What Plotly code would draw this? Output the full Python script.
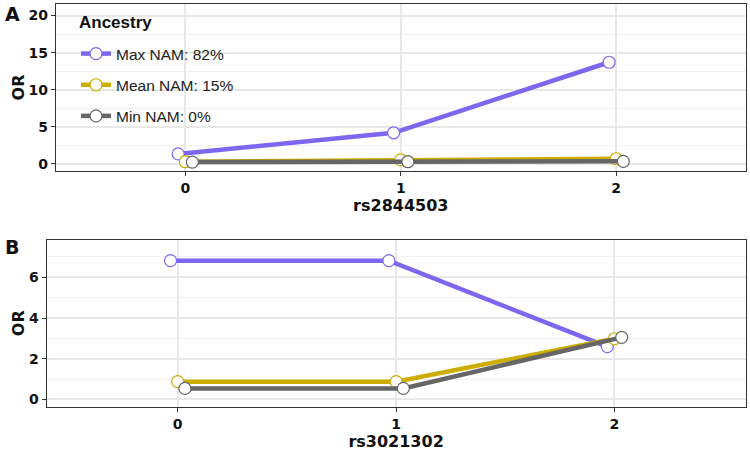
import plotly.graph_objects as go

# ---- data ----
genotypes = [0, 1, 2]
series_names = ["Max NAM: 82%", "Mean NAM: 15%", "Min NAM: 0%"]
colors = ["#7B68EE", "#CDAD00", "#666666"]
legend_title = "Ancestry"

# Panel A: rs2844503
or_a_max = [1.35, 4.2, 13.7]
or_a_mean = [0.30, 0.55, 0.70]
or_a_min = [0.25, 0.30, 0.35]

# Panel B: rs3021302
or_b_max = [6.82, 6.82, 2.59]
or_b_mean = [0.87, 0.87, 2.98]
or_b_min = [0.54, 0.54, 3.05]

snp_a = "rs2844503"
snp_b = "rs3021302"

# ---- style ----
W, H = 750, 451
dodge = [-0.033, 0.0, 0.033]
tick_font = dict(family="DejaVu Sans", size=14, color="#111111", weight="bold")
title_font = dict(family="DejaVu Sans", size=16, color="#111111", weight="bold")

fig = go.Figure()

panels = [
    (or_a_max, or_a_mean, or_a_min, "x", "y", True),
    (or_b_max, or_b_mean, or_b_min, "x2", "y2", False),
]
for vals_max, vals_mean, vals_min, xa, ya, show in panels:
    for i, vals in enumerate([vals_max, vals_mean, vals_min]):
        fig.add_trace(go.Scatter(
            x=[g + dodge[i] for g in genotypes],
            y=vals,
            mode="lines+markers",
            name=series_names[i],
            legendgroup=series_names[i],
            showlegend=show,
            line=dict(color=colors[i], width=4.5),
            marker=dict(size=12, color="white",
                        line=dict(color=colors[i], width=1.2)),
            xaxis=xa, yaxis=ya,
        ))

axis_common = dict(
    showline=True, linecolor="#333333", linewidth=1.2, mirror=True,
    ticks="outside", ticklen=4, tickcolor="#333333", tickwidth=1.2,
    gridcolor="#E8E8E8", gridwidth=1.6, zeroline=False,
    tickfont=tick_font, automargin=False,
)

def px_x(v):
    return v / W

def px_y(v):
    return 1 - v / H

fig.update_layout(
    width=W, height=H,
    margin=dict(l=0, r=0, t=0, b=0),
    paper_bgcolor="white", plot_bgcolor="white",
    xaxis=dict(domain=[px_x(56), px_x(745.5)], range=[-0.6, 2.6], anchor="y",
               tickvals=genotypes, ticktext=[str(g) for g in genotypes],
               title=dict(text=snp_a, font=title_font, standoff=4),
               **axis_common),
    yaxis=dict(domain=[px_y(171), px_y(4)], range=[-0.95, 21.55], anchor="x",
               tickvals=[0, 5, 10, 15, 20],
               minor=dict(tickvals=[2.5, 7.5, 12.5, 17.5], showgrid=True,
                          gridcolor="#F1F1F1", gridwidth=0.9, ticks=""),
               title=dict(text="OR", font=title_font, standoff=0),
               **axis_common),
    xaxis2=dict(domain=[px_x(46.7), px_x(745.5)], range=[-0.6, 2.6], anchor="y2",
                tickvals=genotypes, ticktext=[str(g) for g in genotypes],
                title=dict(text=snp_b, font=title_font, standoff=4),
                **axis_common),
    yaxis2=dict(domain=[px_y(406.7), px_y(239.7)], range=[-0.36, 7.85], anchor="x2",
                tickvals=[0, 2, 4, 6],
                minor=dict(tickvals=[1, 3, 5, 7], showgrid=True,
                           gridcolor="#F1F1F1", gridwidth=0.9, ticks=""),
                title=dict(text="OR", font=title_font, standoff=0),
                **axis_common),
    legend=dict(
        x=px_x(76), y=px_y(37), xanchor="left", yanchor="top",
        bgcolor="rgba(0,0,0,0)", borderwidth=0,
        font=dict(family="Liberation Sans", size=15.5, color="#222222"),
        traceorder="grouped", tracegroupgap=8,
    ),
    shapes=[
        dict(type="rect", xref="paper", yref="paper", layer="between",
             x0=px_x(69), x1=px_x(241), y0=px_y(136), y1=px_y(4.5),
             fillcolor="white", line=dict(width=0)),
    ],
    annotations=[
        dict(text=legend_title, x=px_x(77), y=px_y(22), xref="paper", yref="paper",
             xanchor="left", yanchor="middle", showarrow=False,
             font=dict(family="Liberation Sans", size=17, color="#111111", weight="bold")),
        dict(text="A", x=px_x(3), y=px_y(14), xref="paper", yref="paper",
             xanchor="left", yanchor="middle", showarrow=False,
             font=dict(family="DejaVu Sans", size=19, color="#111111", weight="bold")),
        dict(text="B", x=px_x(3), y=px_y(247), xref="paper", yref="paper",
             xanchor="left", yanchor="middle", showarrow=False,
             font=dict(family="DejaVu Sans", size=19, color="#111111", weight="bold")),
    ],
)

fig.write_html("out.html", config={"displayModeBar": False},
               post_script="document.body.style.margin='0px';")
